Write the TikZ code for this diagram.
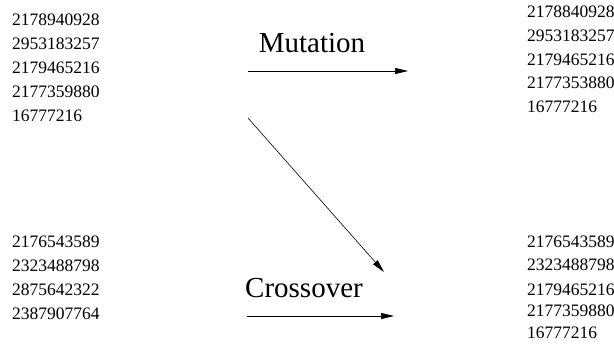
\documentclass[tikz,border=0pt]{standalone}
\usepackage{fontspec}
\setmainfont{Liberation Serif}
\usetikzlibrary{arrows.meta}

\tikzset{
  num/.style={anchor=west,inner sep=0pt,font=\fontsize{17.5}{20}\selectfont},
  oplabel/.style={inner sep=0pt,font=\fontsize{29}{34}\selectfont},
  oparrow/.style={-{Triangle[length=13pt,width=6pt]},line width=0.6pt}
}

\begin{document}
\begin{tikzpicture}[x=1pt,y=-1pt]
  \useasboundingbox (0,0) rectangle (614,348);

  % Parents, top
  \foreach \v [count=\i] in {2178940928,2953183257,2179465216,2177359880,16777216}
    \node[num] (pa\i) at (12,{20+(\i-1)*24}) {\v};

  % Parents, bottom
  \foreach \v [count=\i] in {2176543589,2323488798,2875642322,2387907764}
    \node[num] (pb\i) at (12,{242+(\i-1)*24}) {\v};

  % Offspring after mutation
  \foreach \v [count=\i] in {2178840928,2953183257,2179465216,2177353880,16777216}
    \node[num] (ca\i) at (527,{12+(\i-1)*23.7}) {\v};

  % Offspring after crossover
  \node[num] (cb1) at (527,242) {2176543589};
  \node[num] (cb2) at (527,265) {2323488798};
  \node[num] (cb3) at (527,290) {2179465216};
  \node[num] (cb4) at (527,311) {2177359880};
  \node[num] (cb5) at (527,333) {16777216};

  % Operators
  \node[oplabel] (mutlabel) at (312,43) {Mutation};
  \node[oplabel] (crosslabel) at (304,288) {Crossover};

  \coordinate (mutfrom) at (248,71);
  \coordinate (mutto) at (408,71);
  \coordinate (diagfrom) at (248,118);
  \coordinate (diagto) at (384,272);
  \coordinate (crossfrom) at (247,316);
  \coordinate (crossto) at (394,316);

  \draw[oparrow] (mutfrom) -- (mutto);
  \draw[oparrow] (diagfrom) -- (diagto);
  \draw[oparrow] (crossfrom) -- (crossto);
\end{tikzpicture}
\end{document}
